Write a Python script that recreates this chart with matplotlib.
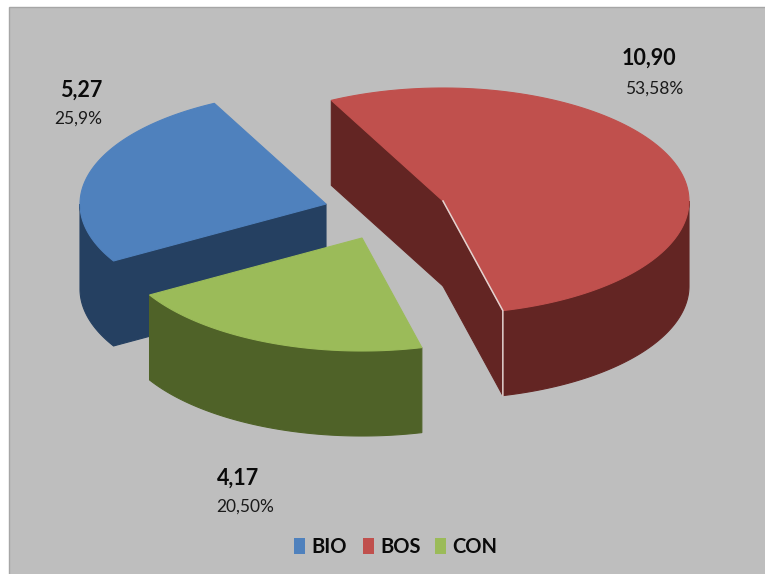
# Pie 3D meledak (BIO / BOS / CON), digambar sebagai poligon

import numpy as np
import matplotlib
matplotlib.use("Agg")
import matplotlib.pyplot as plt
from matplotlib.patches import Polygon, Rectangle

# Data
categories = ["BIO", "BOS", "CON"]
values = [5.27, 10.90, 4.17]
value_labels = ["5,27", "10,90", "4,17"]
percent_labels = ["25,9%", "53,58%", "20,50%"]

# Warna (atas, sisi)
top_colors = ["#4F81BD", "#C0504D", "#9BBB59"]
side_colors = ["#254061", "#632523", "#4F6228"]
bg = "#BEBEBE"

# Geometri elips dalam piksel
rx, ry = 246, 113
depth = 85
start = -27.0   # sudut awal BOS, searah jarum jam dari atas
centers = {"BOS": (443, 201), "CON": (362, 238), "BIO": (326, 204)}

fig = plt.figure(figsize=(7.65, 5.74), dpi=100, facecolor="white")
ax = fig.add_axes([0, 0, 1, 1])
ax.set_xlim(0, 765)
ax.set_ylim(574, 0)
ax.axis("off")
ax.add_patch(Rectangle((9.5, 6.5), 760, 570, fc=bg, ec="#A6A6A6", lw=1))


def rim(c, a0, a1, n=120):
    t = np.radians(np.linspace(a0, a1, n))
    return np.column_stack([c[0] + rx * np.sin(t), c[1] - ry * np.cos(t)])


# Sudut tiap irisan dari nilai
shares = np.array(values) / sum(values) * 360
angles = {}
a = start
for i in [1, 2, 0]:
    angles[categories[i]] = (a, a + shares[i])
    a += shares[i]


def wall(p, q, col):
    pts = [p, q, (q[0], q[1] + depth), (p[0], p[1] + depth)]
    ax.add_patch(Polygon(pts, closed=True, fc=col, ec=col, lw=0.8, zorder=2))


def outer(c, a0, a1, col):
    lo = max(a0, 90)
    hi = min(a1, 270)
    if hi <= lo:
        return
    up = rim(c, lo, hi)
    down = up[::-1] + [0, depth]
    ax.add_patch(Polygon(np.vstack([up, down]), closed=True, fc=col, ec=col, lw=0.8, zorder=2))


# BOS
c = centers["BOS"]
a0, a1 = angles["BOS"]
col = side_colors[1]
p0 = rim(c, a0, a0, 1)[0]
p1 = rim(c, a1, a1, 1)[0]
wall(p0, c, col)
wall(c, p1, col)
outer(c, a0, a1, col)
ax.add_patch(Polygon(np.vstack([[c], rim(c, a0, a1)]), closed=True, fc=top_colors[1], ec=top_colors[1], lw=0.8, zorder=3))
ax.plot([c[0], p1[0], p1[0]], [c[1], p1[1], p1[1] + depth], color="#E3D3D0", lw=1.1, zorder=4)

# BIO
c = centers["BIO"]
a0, a1 = angles["BIO"]
col = side_colors[0]
p0 = rim(c, a0, a0, 1)[0]
wall(c, p0, col)
outer(c, a0, a1, col)
ax.add_patch(Polygon(np.vstack([[c], rim(c, a0, a1)]), closed=True, fc=top_colors[0], ec=top_colors[0], lw=0.8, zorder=3))

# CON
c = centers["CON"]
a0, a1 = angles["CON"]
outer(c, a0, a1, side_colors[2])
ax.add_patch(Polygon(np.vstack([[c], rim(c, a0, a1)]), closed=True, fc=top_colors[2], ec=top_colors[2], lw=0.8, zorder=3))

# Label nilai dan persen
val_pos = [(81, 90), (649, 58), (238, 478)]
pct_pos = [(78, 119), (654, 89), (245, 507)]
for i in range(3):
    ax.text(val_pos[i][0], val_pos[i][1], value_labels[i], family="Lato", fontweight="bold",
            fontsize=15.5, ha="center", va="center", color="#0A0A0A", zorder=5)
    ax.text(pct_pos[i][0], pct_pos[i][1], percent_labels[i], family="Lato",
            fontsize=12.5, ha="center", va="center", color="#1A1A1A", zorder=5)

# Legenda
leg_x = [294, 363, 435]
for i in range(3):
    ax.add_patch(Rectangle((leg_x[i], 538), 11, 16, fc=top_colors[i], ec="none", zorder=5))
    ax.text(leg_x[i] + 17, 547, categories[i], family="Lato", fontweight="bold",
            fontsize=14.5, ha="left", va="center", color="#0A0A0A", zorder=5)

fig.savefig("out.png", dpi=100)
